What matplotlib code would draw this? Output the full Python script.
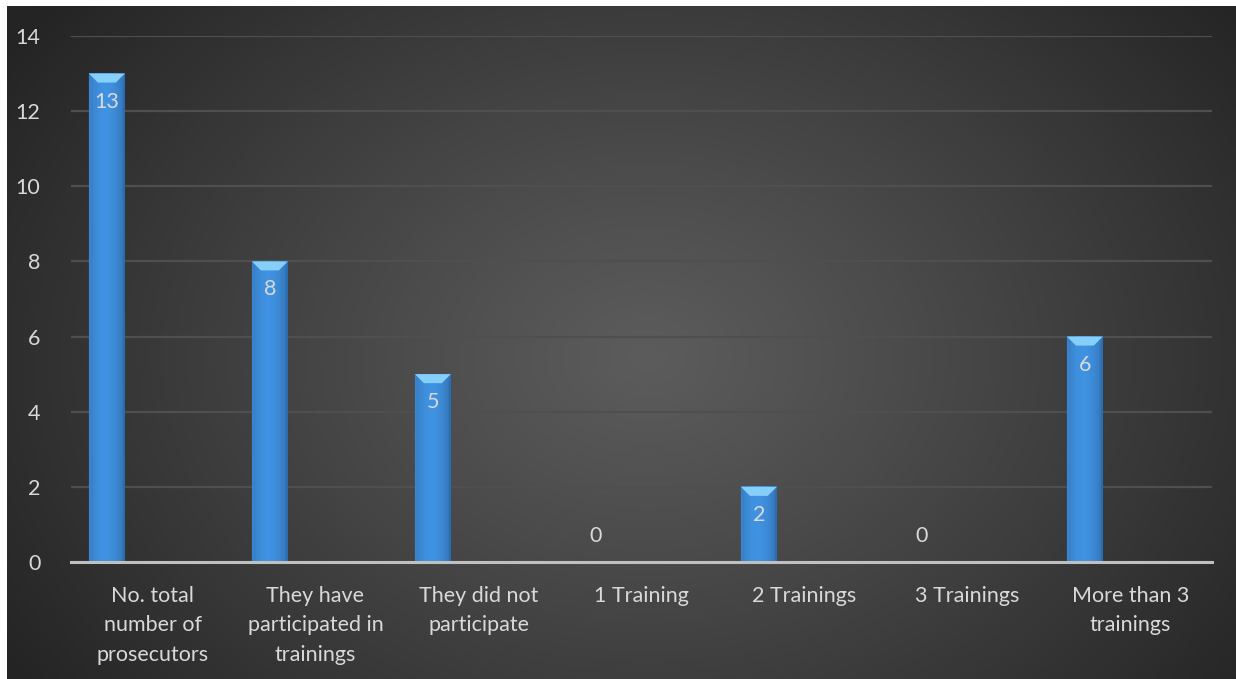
import numpy as np
import matplotlib
matplotlib.use("Agg")
import matplotlib.pyplot as plt
from matplotlib.patches import Polygon

categories = ["No. total\nnumber of\nprosecutors", "They have\nparticipated in\ntrainings",
              "They did not\nparticipate", "1 Training", "2 Trainings", "3 Trainings",
              "More than 3\ntrainings"]
values = [13, 8, 5, 0, 2, 0, 6]
yticks = [0, 2, 4, 6, 8, 10, 12, 14]

plt.rcParams['font.family'] = ['Lato', 'DejaVu Sans']
TXT = '#d9d9d9'
FS = 15.5

W, H = 1236, 679
fig = plt.figure(figsize=(W / 100, H / 100), dpi=100)
fig.patch.set_facecolor('white')

# background radial gradient
bg = fig.add_axes([7 / W, 0, (W - 7) / W, (H - 6) / H])
bg.set_axis_off()
ny, nx = 300, 560
yy, xx = np.mgrid[0:ny, 0:nx]
cx, cy = nx * 0.52, ny * 0.52
r = np.sqrt(((xx - cx) / (nx * 0.62)) ** 2 + ((yy - cy) / (ny * 0.85)) ** 2)
r = np.clip(r, 0, 1)
c_in, c_out = 0x5c / 255, 0x24 / 255
val = c_in + (c_out - c_in) * r ** 1.1
img = np.dstack([val, val, val])
bg.imshow(img, aspect='auto', extent=[0, 1, 0, 1], interpolation='bilinear')
bg.set_xlim(0, 1)
bg.set_ylim(0, 1)

x0p, x1p = 71, 1212
y0p, y14p = 562, 36
ax = fig.add_axes([x0p / W, (H - y0p) / H, (x1p - x0p) / W, (y0p - y14p) / H])
ax.patch.set_alpha(0)
n = len(categories)
ax.set_xlim(-0.5, n - 0.5)
ax.set_ylim(0, 14)
ax.set_yticks(yticks)
ax.set_yticklabels([str(t) for t in yticks], color=TXT, fontsize=FS)
ax.set_xticks(range(n))
ax.set_xticklabels(categories, color=TXT, fontsize=FS, linespacing=1.6)
ax.tick_params(axis='both', length=0)
ax.tick_params(axis='y', pad=22)
ax.tick_params(axis='x', pad=17)
for s in ['top', 'right', 'left']:
    ax.spines[s].set_visible(False)
ax.spines['bottom'].set_color('#c0c0c0')
ax.spines['bottom'].set_linewidth(2.2)
ax.spines['bottom'].set_zorder(5)
ax.yaxis.grid(True, color='#4f4f4f', linewidth=1.6)
ax.set_axisbelow(True)

xpp = n / (x1p - x0p)        # data units per pixel (x)
ypp = 14 / (y0p - y14p)      # data units per pixel (y)

offset = -0.28
bw = 0.22
xpos = np.arange(n) + offset
bars = ax.bar(xpos, values, width=bw, color='#4090e0', zorder=3)

for b, v in zip(bars, values):
    bx, bwid, bh = b.get_x(), b.get_width(), b.get_height()
    if bh > 0:
        grad = np.linspace(0, 1, 40)
        shade = 1 - 0.18 * (np.abs(grad - 0.45) * 2) ** 2
        base = np.array([0x40, 0x92, 0xe2]) / 255
        g = np.clip(base[None, :] * shade[:, None], 0, 1)
        ax.imshow(g[None, :, :], extent=[bx, bx + bwid, 0, bh], aspect='auto',
                  zorder=3.1, interpolation='bilinear')
        d = 9
        dx, dy = d * xpp, d * ypp
        dy = min(dy, bh / 2)
        top = Polygon([[bx, bh], [bx + bwid, bh], [bx + bwid - dx, bh - dy], [bx + dx, bh - dy]],
                      closed=True, facecolor='#86cff8', edgecolor='none', zorder=3.3)
        ax.add_patch(top)
        left = Polygon([[bx, bh], [bx + dx * 0.2, bh - dy], [bx + dx * 0.2, 0], [bx, 0]],
                       closed=True, facecolor='#3a84d0', edgecolor='none', zorder=3.2)
        right = Polygon([[bx + bwid, bh], [bx + bwid - dx * 0.2, bh - dy],
                         [bx + bwid - dx * 0.2, 0], [bx + bwid, 0]],
                        closed=True, facecolor='#2a6cb4', edgecolor='none', zorder=3.2)
        ax.add_patch(left)
        ax.add_patch(right)
        ax.text(bx + bwid / 2, bh - 28 * ypp, str(v), ha='center', va='center',
                color=TXT, fontsize=FS, zorder=6)
    else:
        ax.text(bx + bwid / 2, bh + 26 * ypp, str(v), ha='center', va='center',
                color=TXT, fontsize=FS, zorder=6)

fig.savefig('out.png', dpi=100, facecolor='white')
